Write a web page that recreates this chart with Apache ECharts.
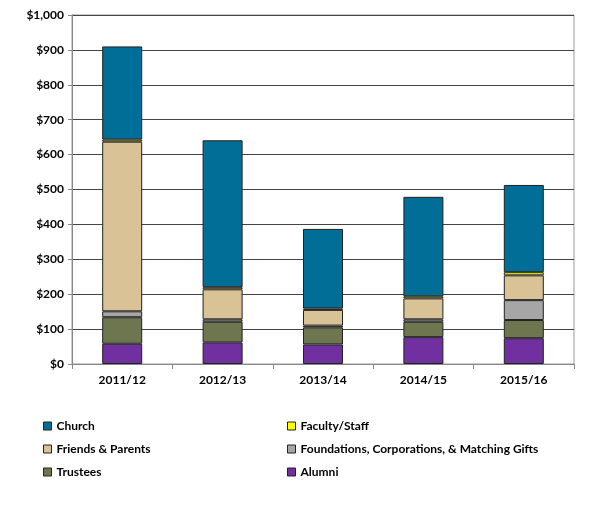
<!DOCTYPE html>
<html>
<head>
<meta charset="utf-8">
<script src="https://cdn.jsdelivr.net/npm/echarts@6/dist/echarts.min.js"></script>
<style>
  html, body { margin: 0; padding: 0; background: #fff; }
  #chart { width: 614px; height: 512px; }
</style>
</head>
<body>
<div id="chart"></div>
<script>
// fiscal years
const years = ['2011/12', '2012/13', '2013/14', '2014/15', '2015/16']
// gifts by source, in $ thousands
const alumni = [58, 62, 56, 77, 74]
const trustees = [76, 59, 49, 44, 52]
const foundations = [17, 7, 5, 7, 57]
const friends = [486, 86, 45, 60, 71]
const faculty = [6, 6, 4, 6, 9]
const church = [267, 421, 228, 285, 250]
const yTicks = [0, 100, 200, 300, 400, 500, 600, 700, 800, 900, 1000]

const font = 'Lato'
const chart = echarts.init(document.getElementById('chart'))

// builds one stacked bar series
function stackBar(name, data, color) {
  return {
    name: name,
    type: 'bar',
    stack: 'gifts',
    data: data,
    barWidth: 40,
    itemStyle: { color: color, borderColor: '#222', borderWidth: 1 }
  }
}

const legendText = { fontFamily: font, fontWeight: 'bold', fontSize: 12, color: '#000', lineHeight: 14 }

chart.setOption({
  animation: false,
  textStyle: { fontFamily: font },
  grid: { left: 72, top: 15, right: 40, bottom: 148, show: true, borderColor: '#999', borderWidth: 1 },
  legend: [
    {
      orient: 'vertical', left: 38, top: 414, itemWidth: 8, itemHeight: 8, itemGap: 9,
      icon: 'rect', textStyle: legendText,
      itemStyle: { borderColor: '#222', borderWidth: 1 },
      data: ['Church', 'Friends & Parents', 'Trustees']
    },
    {
      orient: 'vertical', left: 282, top: 414, itemWidth: 8, itemHeight: 8, itemGap: 9,
      icon: 'rect', textStyle: legendText,
      itemStyle: { borderColor: '#222', borderWidth: 1 },
      data: ['Faculty/Staff', 'Foundations, Corporations, & Matching Gifts', 'Alumni']
    }
  ],
  xAxis: {
    type: 'category',
    data: years,
    axisLine: { lineStyle: { color: '#888' } },
    axisTick: { show: true, length: 5, lineStyle: { color: '#888' } },
    axisLabel: { fontFamily: font, fontWeight: 'bold', fontSize: 12, color: '#000', margin: 10 }
  },
  yAxis: {
    type: 'value',
    min: yTicks[0],
    max: yTicks[yTicks.length - 1],
    interval: 100,
    axisLine: { show: true, lineStyle: { color: '#888' } },
    axisTick: { show: true, length: 4, lineStyle: { color: '#888' } },
    splitLine: { lineStyle: { color: '#444' } },
    axisLabel: {
      fontFamily: font, fontWeight: 'bold', fontSize: 12, color: '#000', margin: 8,
      formatter: v => '$' + v.toLocaleString('en-US')
    }
  },
  series: [
    stackBar('Alumni', alumni, '#7030A0'),
    stackBar('Trustees', trustees, '#6E7650'),
    stackBar('Foundations, Corporations, & Matching Gifts', foundations, '#A6A6A6'),
    stackBar('Friends & Parents', friends, '#D9C396'),
    stackBar('Faculty/Staff', faculty, '#FFFF00'),
    stackBar('Church', church, '#006E96')
  ]
})
</script>
</body>
</html>
